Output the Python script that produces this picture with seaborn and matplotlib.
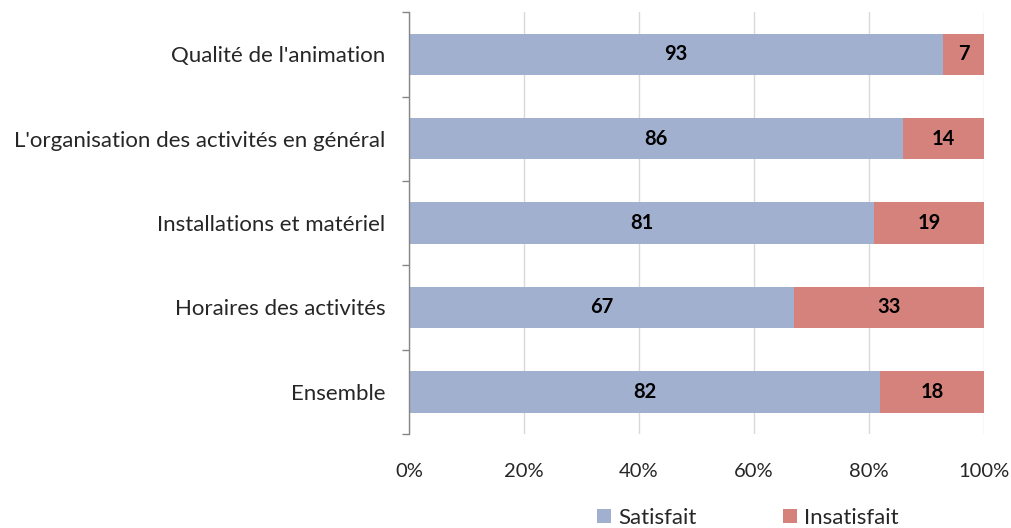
import matplotlib
matplotlib.use("Agg")
import matplotlib.pyplot as plt
import seaborn as sns
import pandas as pd
import numpy as np
from matplotlib.patches import Patch

categories = ["Qualité de l'animation",
              "L'organisation des activités en général",
              "Installations et matériel",
              "Horaires des activités",
              "Ensemble"]
satisfait = [93, 86, 81, 67, 82]
insatisfait = [7, 14, 19, 33, 18]
xticks = [0, 20, 40, 60, 80, 100]
xtick_labels = ["0%", "20%", "40%", "60%", "80%", "100%"]
series_names = ["Satisfait", "Insatisfait"]

col_sat = "#A2B0CF"
col_ins = "#D4827B"

sns.set_style("white")
plt.rcParams['font.family'] = ['Lato', 'DejaVu Sans']

df = pd.DataFrame({"cat": categories, "sat": satisfait, "ins": insatisfait})
df["total"] = df["sat"] + df["ins"]

fig = plt.figure(figsize=(10.12, 5.28), dpi=100)
ax = fig.add_axes([0.404, 0.178, 0.568, 0.799])

sns.barplot(data=df, x="total", y="cat", orient="h", color=col_ins,
            saturation=1, width=0.49, ax=ax, zorder=2, linewidth=0)
sns.barplot(data=df, x="sat", y="cat", orient="h", color=col_sat,
            saturation=1, width=0.49, ax=ax, zorder=3, linewidth=0)

for i, (s, n) in enumerate(zip(satisfait, insatisfait)):
    ax.text(s / 2, i, str(s), ha="center", va="center", fontsize=14.5,
            fontweight="bold", color="black", zorder=5)
    ax.text(s + n / 2, i, str(n), ha="center", va="center", fontsize=14.5,
            fontweight="bold", color="black", zorder=5)

ax.set_xlim(0, 100)
ax.set_ylim(len(categories) - 0.5, -0.5)
ax.set_xticks(xticks)
ax.set_xticklabels(xtick_labels, fontsize=14.5)
ax.tick_params(axis="x", length=0, pad=21)
ax.tick_params(axis="y", which="major", left=False, length=0, pad=17, labelsize=16)
ax.set_yticks(np.arange(-0.5, len(categories) + 0.5, 1), minor=True)
ax.tick_params(axis="y", which="minor", left=True, length=5, width=1,
               color="#868686", direction="out")
ax.set_xlabel("")
ax.set_ylabel("")
ax.xaxis.grid(True, color="#D9D9D9", linewidth=1, zorder=0)
ax.set_axisbelow(True)
for sp in ["top", "right", "bottom"]:
    ax.spines[sp].set_visible(False)
ax.spines["left"].set_color("#868686")
ax.spines["left"].set_linewidth(1)
ax.spines["left"].set_zorder(6)

handles = [Patch(facecolor=col_sat, edgecolor="none"),
           Patch(facecolor=col_ins, edgecolor="none")]
fig.legend(handles, series_names, loc="lower center", bbox_to_anchor=(0.739, -0.038),
           ncol=2, frameon=False, fontsize=16, handlelength=0.63, handleheight=0.6,
           handletextpad=0.3, columnspacing=3.9)

fig.savefig("out.png", dpi=100)
